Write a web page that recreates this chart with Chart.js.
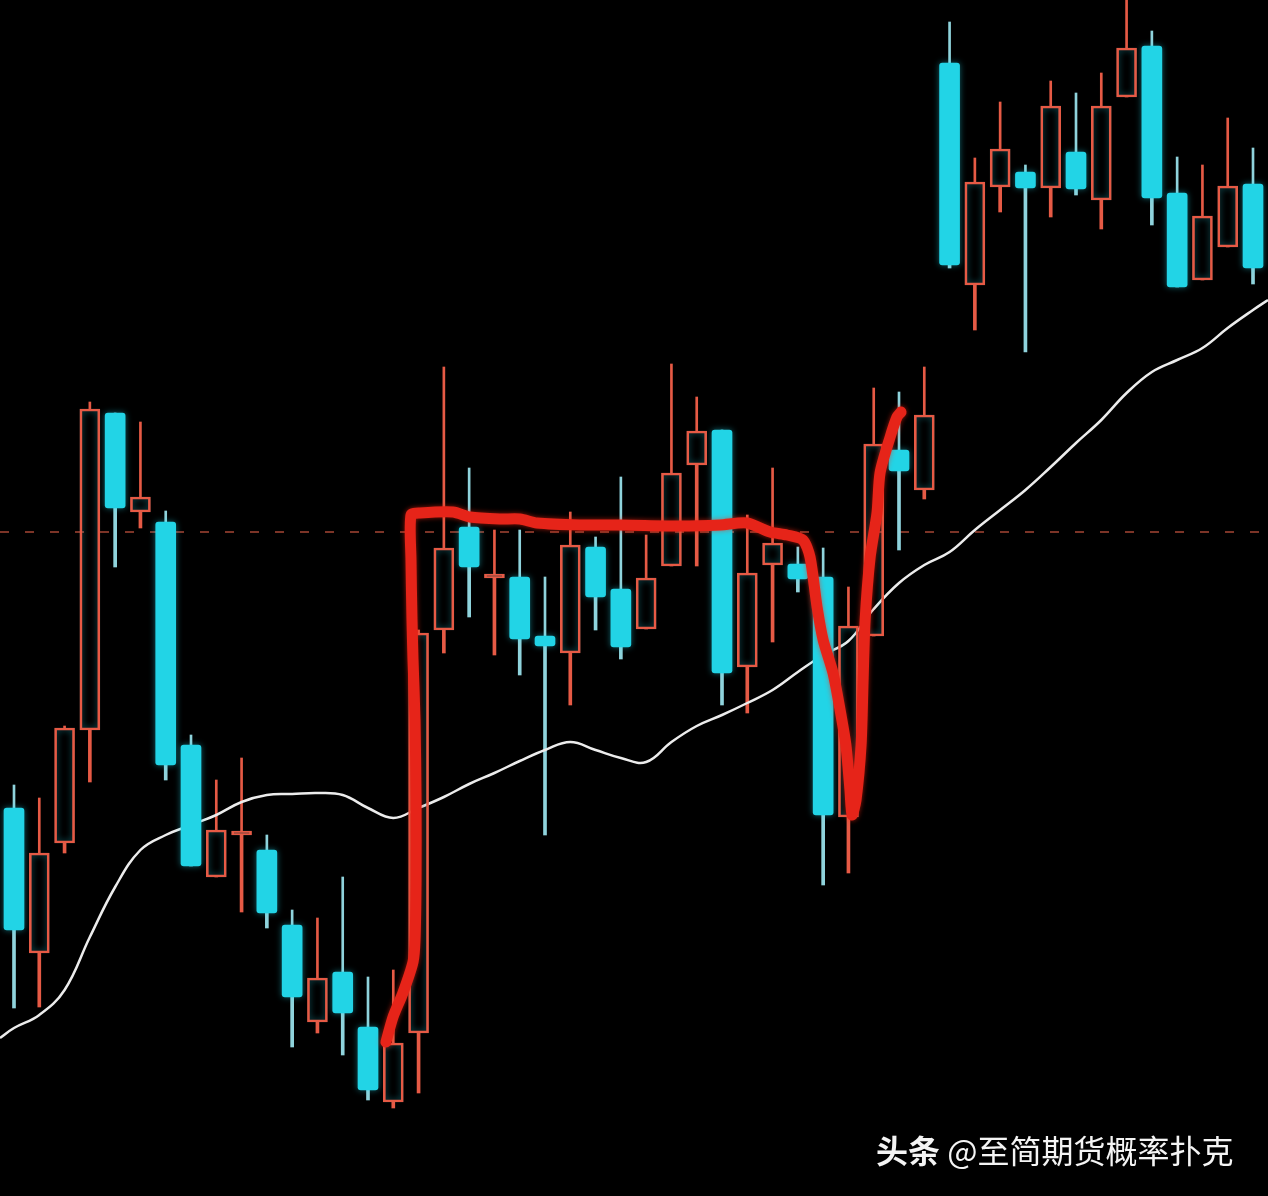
<!DOCTYPE html>
<html><head><meta charset="utf-8">
<script src="https://cdn.jsdelivr.net/npm/chart.js@4.4.1/dist/chart.umd.min.js"></script>
<style>
html,body{margin:0;padding:0;background:#000;}
#wrap{position:relative;width:1268px;height:1196px;background:#000;overflow:hidden;}
#c{position:absolute;left:0;top:0;}
#mark{position:absolute;left:876px;top:1127px;font-family:"Noto Sans CJK SC","Noto Sans",sans-serif;font-size:32px;line-height:44px;color:#f4f4f4;white-space:nowrap;}
#mark b{font-weight:700;}
#mark span{font-weight:400;}
</style></head><body>
<div id="wrap"><canvas id="c" width="1268" height="1196"></canvas><div id="mark"><b>头条</b><span> @至简期货概率扑克</span></div></div>
<script>
// ---- candle data (one per session) ----
const opens  = [3388,3243,3353,3466,3783,3684,3674,3451,3319,3361,3346,3271,3174,3224,3169,3094,3163,3566,3669,3618,3619,3560,3543,3649,3607,3567,3630,3731,3766,3529,3631,3632,3619,3379,3560,3746,3706,4133,3911,4009,4024,4008,4044,3996,4099,4150,4003,3916,3949,4012];
const highs  = [3411,3398,3470,3794,3783,3774,3685,3461,3416,3438,3361,3286,3278,3319,3219,3226,3566,3829,3728,3666,3666,3619,3684,3659,3719,3661,3832,3799,3766,3681,3728,3649,3648,3609,3808,3804,3829,4174,4038,4094,4031,4115,4103,4123,4196,4165,4039,4031,4078,4048];
const lows   = [3188,3189,3343,3414,3629,3668,3416,3330,3319,3284,3268,3149,3163,3141,3096,3088,3103,3543,3579,3541,3521,3361,3491,3566,3537,3567,3630,3630,3491,3483,3554,3604,3311,3323,3560,3646,3697,3928,3866,3984,3844,3979,4001,3967,4099,3971,3909,3916,3949,3912];
const closes = [3266,3343,3468,3787,3688,3699,3431,3330,3366,3365,3283,3199,3218,3183,3106,3153,3563,3648,3629,3622,3557,3550,3651,3599,3549,3618,3723,3765,3523,3623,3653,3617,3381,3570,3752,3725,3781,3931,4014,4047,4008,4090,4007,4090,4148,3998,3909,3980,4010,3928];
// ---- moving average ----
const maValues = [3168,3181,3206,3259,3309,3346,3361,3371,3381,3394,3401,3402,3403,3401,3388,3378,3388,3399,3412,3423,3435,3446,3454,3446,3438,3434,3454,3470,3481,3493,3506,3524,3541,3555,3587,3613,3631,3644,3666,3686,3706,3729,3753,3776,3803,3824,3836,3848,3868,3886];
const maStart = 3158, maEnd = 3896;
// ---- dashed reference level ----
const refLevel = 3664;
// ---- hand-drawn red annotation (session index, price) ----
const markIdx = [14.71,14.99,15.38,15.78,15.86,15.90,15.90,15.86,15.78,15.74,15.70,15.70,16.06,17.36,18.03,19.22,20.01,20.68,22.38,23.97,26.34,27.92,28.99,29.90,30.57,31.20,31.48,31.76,32.00,32.39,32.67,32.90,33.06,33.14,33.30,33.50,33.58,33.66,33.86,34.13,34.25,34.65,34.92,35.08];
const markPrice = [3154,3179,3203,3234,3256,3316,3396,3476,3536,3576,3636,3681,3683,3684,3679,3677,3677,3673,3671,3671,3670,3671,3673,3664,3661,3656,3639,3589,3556,3523,3486,3451,3406,3381,3396,3451,3516,3576,3639,3683,3723,3759,3779,3784];

const RED = '#e65a45', CYAN = '#22d4e6', CYAN_WICK = '#8fd3dc', MARK = '#e62419';
const X_MIN = -0.5537, X_MAX = 49.593, Y_MIN = 3000, Y_MAX = 4196;

const isUp = opens.map((o,i)=>closes[i] >= o);
const bodyData = opens.map((o,i)=>({x:i, y:[o, closes[i]]}));
const upperWick = opens.map((o,i)=>({x:i, y:[Math.max(o,closes[i]), highs[i]]}));
const lowerWick = opens.map((o,i)=>({x:i, y:[lows[i], Math.min(o,closes[i])]}));
const wickColors = isUp.map(u=>u?RED:CYAN_WICK);
const maData = [{x:X_MIN, y:maStart}].concat(maValues.map((v,i)=>({x:i,y:v}))).concat([{x:X_MAX,y:maEnd}]);
const markData = markIdx.map((x,i)=>({x, y:markPrice[i]}));

const glow = {
  id:'glow',
  beforeDatasetDraw(chart, args){
    const ds = chart.data.datasets[args.index];
    if (ds.glow){ chart.ctx.save(); chart.ctx.shadowColor = ds.glow; chart.ctx.shadowBlur = ds.glowBlur || 6; }
  },
  afterDatasetDraw(chart, args){
    const ds = chart.data.datasets[args.index];
    if (ds.glow){ chart.ctx.restore(); }
  }
};

new Chart(document.getElementById('c'), {
  type:'bar',
  data:{
    datasets:[
      {type:'line', label:'mark', data:markData, borderColor:MARK, borderWidth:11, pointRadius:0, tension:0.25, borderJoinStyle:'round', borderCapStyle:'round', order:0, glow:'rgba(255,40,20,0.6)', glowBlur:5},
      {type:'line', label:'MA', data:maData, borderColor:'#ececec', borderWidth:2.5, pointRadius:0, tension:0.4, order:2},
      {label:'body', data:bodyData, grouped:false, barThickness:20,
        backgroundColor:isUp.map(u=>u?'rgba(0,0,0,0)':CYAN),
        borderColor:isUp.map(u=>u?RED:CYAN),
        borderWidth:isUp.map(u=>u?2:0),
        borderRadius:isUp.map(u=>u?0:3),
        borderSkipped:false, order:1, glow:'rgba(40,220,240,0.45)', glowBlur:6},
      {label:'upperWick', data:upperWick, grouped:false, barThickness:isUp.map(u=>u?2:3), backgroundColor:wickColors, borderWidth:0, order:3},
      {label:'lowerWick', data:lowerWick, grouped:false, barThickness:isUp.map(u=>u?2:3), backgroundColor:wickColors, borderWidth:0, order:3},
      {type:'line', label:'ref', data:[{x:X_MIN,y:refLevel},{x:X_MAX,y:refLevel}], borderColor:'rgba(190,80,60,0.65)', borderWidth:2, borderDash:[9,16], pointRadius:0, order:5}
    ]
  },
  options:{
    responsive:false, animation:false, maintainAspectRatio:false,
    layout:{padding:0},
    plugins:{legend:{display:false}, tooltip:{enabled:false}},
    scales:{
      x:{type:'linear', min:X_MIN, max:X_MAX, offset:false, display:false, grid:{display:false, offset:false}},
      y:{type:'linear', min:Y_MIN, max:Y_MAX, display:false, grid:{display:false}}
    }
  },
  plugins:[glow]
});
</script>
</body></html>
